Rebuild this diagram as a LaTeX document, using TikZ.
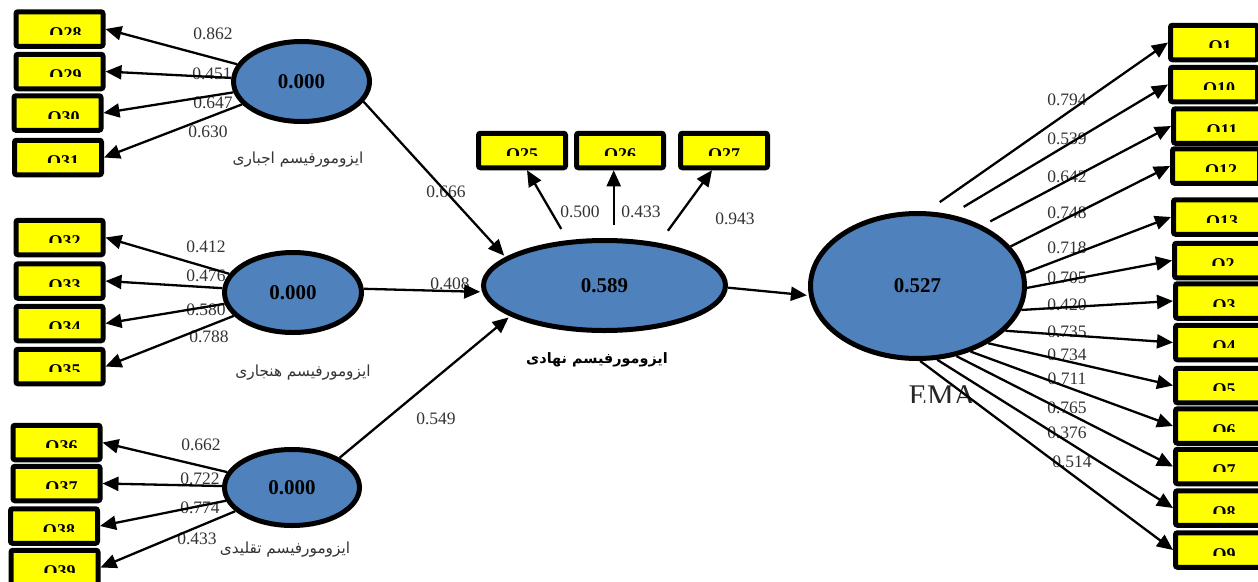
\documentclass[tikz,border=0pt]{standalone}
\usepackage{fontspec}
\setmainfont{Liberation Serif}
\newfontfamily\arabicfont[Script=Arabic]{DejaVu Sans}
\TeXXeTstate=1
\usetikzlibrary{shapes.geometric,arrows.meta}
\definecolor{boxyellow}{RGB}{255,255,0}
\definecolor{latentblue}{RGB}{79,129,189}
\pgfdeclarelayer{bg}
\pgfsetlayers{bg,main}
\begin{document}
\begin{tikzpicture}[x=1pt,y=-1pt,
  latent/.style={ellipse, draw=black, line width=5pt, fill=latentblue, inner sep=0pt,
    font=\fontsize{21}{21}\selectfont\bfseries},
  qbox/.style 2 args={rectangle, draw=black, line width=5pt, fill=boxyellow, rounded corners=2pt,
    minimum width=87pt, minimum height=34.5pt, inner sep=0pt,
    path picture={\clip ([xshift=-5pt,yshift=5pt]path picture bounding box.north west) rectangle ([xshift=5pt,yshift=-22.5pt]path picture bounding box.north east);
      \node[anchor=base, inner sep=0pt, font=\fontsize{18}{18}\selectfont\bfseries] (lbl#1) at ([xshift=#2,yshift=-27.5pt]path picture bounding box.north) {#1};}},
  vlabel/.style={inner sep=0pt, text=black!80, font=\fontsize{17.5}{17.5}\selectfont},
  plabel/.style={inner sep=0pt, text=black!80, font=\arabicfont\fontsize{15.3}{15.3}\selectfont},
  pboldlabel/.style={inner sep=0pt, text=black, font=\arabicfont\fontsize{14.4}{14.4}\selectfont\bfseries},
  arr/.style={draw=black, line width=2.3pt, -{Triangle[length=16pt,width=14pt]}}
]
\useasboundingbox (0,0) rectangle (1258,581);
\clip (0,0) rectangle (1258,581);

% latent variables
\node[latent, minimum width=136pt, minimum height=80pt] (e1) at (301.5,81.5) {0.000};
\node[latent, minimum width=137pt, minimum height=80pt] (e2) at (293,292.5) {0.000};
\node[latent, minimum width=135pt, minimum height=76pt] (e3) at (292,487.5) {0.000};
\node[latent, minimum width=242pt, minimum height=90pt] (e4) at (604.5,285.5) {0.589};
\node[latent, minimum width=214pt, minimum height=145pt] (e5) at (917.5,286) {0.527};

% indicator boxes, left
\node[qbox={Q28}{6pt}] (q28) at (59.5,29) {};
\node[qbox={Q29}{6pt}] (q29) at (59.5,71.5) {};
\node[qbox={Q30}{6pt}] (q30) at (57.5,113) {};
\node[qbox={Q31}{5pt}] (q31) at (58,157.5) {};
\node[qbox={Q32}{5pt}] (q32) at (59.5,237.5) {};
\node[qbox={Q33}{5pt}] (q33) at (59.5,281) {};
\node[qbox={Q34}{5pt}] (q34) at (59.5,323.5) {};
\node[qbox={Q35}{5pt}] (q35) at (59.5,366.5) {};
\node[qbox={Q36}{5pt}] (q36) at (56.5,442.5) {};
\node[qbox={Q37}{5pt}] (q37) at (56.5,483.5) {};
\node[qbox={Q38}{5pt}] (q38) at (54,526) {};
\node[qbox={Q39}{5pt}] (q39) at (54.5,567.5) {};
% top
\node[qbox={Q25}{0pt}] (q25) at (522,150.5) {};
\node[qbox={Q26}{0pt}] (q26) at (620,150.5) {};
\node[qbox={Q27}{0pt}] (q27) at (724,150.5) {};
% right
\node[qbox={Q1}{6pt}] (q1) at (1214,42.5) {};
\node[qbox={Q10}{5pt}] (q10) at (1214,84.5) {};
\node[qbox={Q11}{5pt}] (q11) at (1217,126) {};
\node[qbox={Q12}{5pt}] (q12) at (1216,166) {};
\node[qbox={Q13}{5pt}] (q13) at (1217,217) {};
\node[qbox={Q2}{5pt}] (q2) at (1218,260.5) {};
\node[qbox={Q3}{5pt}] (q3) at (1219,301) {};
\node[qbox={Q4}{5pt}] (q4) at (1219,342.5) {};
\node[qbox={Q5}{5pt}] (q5) at (1219,385.5) {};
\node[qbox={Q6}{5pt}] (q6) at (1219,426) {};
\node[qbox={Q7}{5pt}] (q7) at (1219,466.5) {};
\node[qbox={Q8}{5pt}] (q8) at (1219,508) {};
\node[qbox={Q9}{5pt}] (q9) at (1219,550) {};

% latent names
\node[plabel] (n1) at (298,160) {\beginR ایزومورفیسم اجباری\endR};
\node[plabel] (n2) at (303,373) {\beginR ایزومورفیسم هنجاری\endR};
\node[plabel] (n3) at (285,550) {\beginR ایزومورفیسم تقلیدی\endR};
\node[pboldlabel] (n4) at (597,360) {\beginR ایزومورفیسم نهادی\endR};
\begin{scope}
\clip (880,370) rectangle (1010,402);
\node[inner sep=0pt, anchor=base, text=black!85, font=\fontsize{30}{30}\selectfont] (n5) at (942,405) {EMA};
\end{scope}

% connectors: outer models
\draw[arr] (e1) -- (q28.east);
\draw[arr] (e1) -- (q29.east);
\draw[arr] (e1) -- (q30.east);
\draw[arr] (e1) -- (q31.east);
\draw[arr] (e2) -- (q32.east);
\draw[arr] (e2) -- (q33.east);
\draw[arr] (e2) -- (q34.east);
\draw[arr] (e2) -- (q35.east);
\draw[arr] (e3) -- (q36.east);
\draw[arr] (e3) -- (q37.east);
\draw[arr] (e3) -- (q38.east);
\draw[arr] (e3) -- (q39.east);
\draw[arr, shorten <=13pt] (e4.129) -- ([xshift=5pt]q25.south);
\draw[arr, shorten <=13pt] (e4.79) -- (e4.79 |- q26.south);
\draw[arr, shorten <=15pt] (e4.38) -- ([xshift=-12pt]q27.south);

% inner model
\draw[arr, shorten >=2pt] (e1.342) -- (e4.164);
\draw[arr, shorten >=2pt] (e2.3) -- (e4.183);
\draw[arr, shorten >=2pt] (e3.32) -- (e4.198);
\draw[arr, shorten >=2pt] (e4.359) -- (e5.185);

% EMA indicators
\draw[arr, shorten <=16pt] (e5.83) -- (q1.west);
\draw[arr, shorten <=15pt] (e5.65) -- (q10.west);
\draw[arr, shorten <=9pt] (e5.43) -- (q11.west);
\draw[arr] (e5.23) -- (q12.west);
\draw[arr] (e5.7) -- (q13.west);
\draw[arr] (e5.359) -- (q2.west);
\draw[arr] (e5.347) -- (q3.west);
\draw[arr] (e5.333) -- (q4.west);
\draw[arr] (e5.321) -- (q5.west);
\draw[arr] (e5.309) -- (q6.west);
\draw[arr] (e5.299) -- (q7.west);
\draw[arr] (e5.285) -- (q8.west);
\draw[arr] (e5.272) -- (q9.west);

% coefficient labels
\begin{pgfonlayer}{bg}
\node[vlabel] (v1) at (213,34) {0.862};
\node[vlabel] (v2) at (212,74) {0.451};
\node[vlabel] (v3) at (213,103) {0.647};
\node[vlabel] (v4) at (208,132) {0.630};
\node[vlabel] (v5) at (206,247) {0.412};
\node[vlabel] (v6) at (206,276) {0.476};
\node[vlabel] (v7) at (206,310) {0.580};
\node[vlabel] (v8) at (209,337) {0.788};
\node[vlabel] (v9) at (201,445) {0.662};
\node[vlabel] (v10) at (200,479) {0.722};
\node[vlabel] (v11) at (200,508) {0.774};
\node[vlabel] (v12) at (197,539) {0.433};
\node[vlabel] (v13) at (446,192) {0.666};
\node[vlabel] (v14) at (450,284) {0.408};
\node[vlabel] (v15) at (436,419) {0.549};
\node[vlabel] (v16) at (580,212) {0.500};
\node[vlabel] (v17) at (641,212) {0.433};
\node[vlabel] (v18) at (735,219) {0.943};
\node[vlabel] (v19) at (1067,100) {0.794};
\node[vlabel] (v20) at (1067,139) {0.539};
\node[vlabel] (v21) at (1067,177) {0.642};
\node[vlabel] (v22) at (1067,213) {0.748};
\node[vlabel] (v23) at (1067,248) {0.718};
\node[vlabel] (v24) at (1067,278) {0.705};
\node[vlabel] (v25) at (1067,305) {0.420};
\node[vlabel] (v26) at (1067,332) {0.735};
\node[vlabel] (v27) at (1067,355) {0.734};
\node[vlabel] (v28) at (1067,379) {0.711};
\node[vlabel] (v29) at (1067,408) {0.765};
\node[vlabel] (v30) at (1067,433) {0.376};
\node[vlabel] (v31) at (1072,462) {0.514};
\end{pgfonlayer}
\end{tikzpicture}
\end{document}
